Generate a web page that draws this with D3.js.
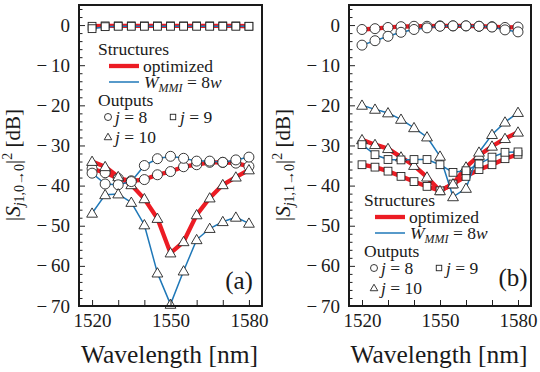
<!DOCTYPE html>
<html><head><meta charset="utf-8">
<script src="https://cdn.jsdelivr.net/npm/d3@7"></script>
<style>
body{margin:0;background:#fff}
svg{display:block}
</style>
</head><body><svg id="c" width="540" height="372"></svg>
<script>
// ---- data ----
const wavelengths = [1520,1525,1530,1535,1540,1545,1550,1555,1560,1565,1570,1575,1580];
const yMajorTicks = [0,-10,-20,-30,-40,-50,-60,-70];
const yMinorTicks = [4,2,-2,-4,-6,-8,-12,-14,-16,-18,-22,-24,-26,-28,-32,-34,-36,-38,-42,-44,-46,-48,-52,-54,-56,-58,-62,-64,-66,-68];
const xTicks = [1520,1530,1540,1550,1560,1570,1580];
const xTickLabels = [1520,1550,1580];

// panel (a): |S_{j1,0->0}|^2
const aOptJ8  = [-35.8,-36.8,-38.2,-38.8,-38.5,-37.3,-36.5,-35.3,-34.8,-34.2,-34.2,-34.4,-35.2];
const aOptJ9  = [-0.3,-0.2,-0.2,-0.2,-0.2,-0.2,-0.2,-0.2,-0.2,-0.2,-0.2,-0.2,-0.3];
const aOptJ10 = [-34.0,-35.3,-37.8,-39.8,-43.3,-48.2,-56.8,-54.0,-47.3,-43.1,-39.8,-37.9,-36.1];
const aRefJ8  = [-36.9,-39.6,-39.8,-39.0,-35.0,-33.3,-32.7,-33.2,-33.9,-33.9,-34.2,-33.6,-32.9];
const aRefJ9  = [-0.9,-0.4,-0.3,-0.3,-0.3,-0.3,-0.3,-0.3,-0.3,-0.3,-0.3,-0.3,-0.3];
const aRefJ10 = [-46.9,-42.3,-42.1,-44.2,-49.8,-61.8,-69.6,-61.3,-53.5,-50.7,-49.0,-47.9,-49.4];

// panel (b): |S_{j1,1->0}|^2
const bOptJ8  = [-1.1,-0.9,-0.6,-0.4,-0.3,-0.3,-0.2,-0.2,-0.2,-0.3,-0.4,-0.6,-0.5];
const bOptJ9  = [-34.8,-35.4,-36.4,-37.7,-39.0,-40.2,-41.3,-39.6,-37.7,-36.0,-34.8,-33.3,-32.2];
const bOptJ10 = [-28.6,-29.8,-30.8,-32.9,-35.0,-37.9,-41.3,-39.6,-35.4,-32.5,-30.2,-28.3,-26.7];
const bRefJ8  = [-5.0,-3.9,-2.8,-1.8,-1.1,-0.7,-0.3,-0.2,-0.2,-0.3,-0.5,-1.2,-1.7];
const bRefJ9  = [-29.8,-32.3,-33.5,-33.6,-33.5,-33.5,-34.8,-36.7,-36.3,-34.6,-32.9,-31.7,-31.6];
const bRefJ10 = [-20.0,-21.0,-21.9,-23.5,-25.6,-27.9,-32.7,-42.8,-40.7,-31.7,-27.3,-24.2,-21.8];

const legendStructures = ["optimized","W_MMI = 8w"];
const legendOutputs = ["j = 8","j = 9","j = 10"];

// ---- font detection (pick a Times-like serif that is installed) ----
function pickFont(cands) {
  const ctx = document.createElement("canvas").getContext("2d");
  const probe = "Wavelength [nm] 1520 Structures";
  for (const f of cands) {
    for (const base of ["monospace","sans-serif"]) {
      ctx.font = `20px ${base}`; const w0 = ctx.measureText(probe).width;
      ctx.font = `20px "${f}", ${base}`; const w1 = ctx.measureText(probe).width;
      if (Math.abs(w0 - w1) > 0.5) return f;
    }
  }
  return "serif";
}
const FONT = pickFont(["Liberation Serif","Tinos","Times New Roman","Nimbus Roman","FreeSerif","TeX Gyre Termes","Noto Serif","DejaVu Serif"]);
const FF = `"${FONT}", serif`;

// ---- style ----
const RED = "#ec1c24", BLUE = "#1f78b8", INK = "#1a1a1a";
const svg = d3.select("#c");
const fmt = v => v < 0 ? "\u2212\u2009" + Math.abs(v) : String(v);

const panels = [
  {left:79, right:262, tag:"(a)", tagX:239, tagY:289, sub:"1,0\u21920", labX:20, leg:[98,55],
   series:[
     {vals:aOptJ8,c:RED,w:4.3,m:"circle"},{vals:aOptJ9,c:RED,w:4.3,m:"square"},{vals:aOptJ10,c:RED,w:4.3,m:"tri"},
     {vals:aRefJ8,c:BLUE,w:1.5,m:"circle"},{vals:aRefJ9,c:BLUE,w:1.5,m:"square"},{vals:aRefJ10,c:BLUE,w:1.5,m:"tri"}]},
  {left:349, right:531, tag:"(b)", tagX:513, tagY:286, sub:"1,1\u21920", labX:290, leg:[364,206],
   series:[
     {vals:bOptJ8,c:RED,w:4.3,m:"circle"},{vals:bOptJ9,c:RED,w:4.3,m:"square"},{vals:bOptJ10,c:RED,w:4.3,m:"tri"},
     {vals:bRefJ8,c:BLUE,w:1.5,m:"circle"},{vals:bRefJ9,c:BLUE,w:1.5,m:"square"},{vals:bRefJ10,c:BLUE,w:1.5,m:"tri"}]}
];

const TOP = 5, BOTTOM = 306;
const y = d3.scaleLinear().domain([-70, 5]).range([BOTTOM, TOP]);

function marker(g, type, cx, cy, s) {
  if (type === "circle") {
    g.append("circle").attr("cx", cx).attr("cy", cy).attr("r", 5*s)
      .attr("fill","#fff").attr("stroke","#222").attr("stroke-width",0.9);
  } else if (type === "square") {
    const h = 3.9*s;
    g.append("rect").attr("x", cx-h).attr("y", cy-h).attr("width", 2*h).attr("height", 2*h)
      .attr("fill","#fff").attr("stroke","#222").attr("stroke-width",0.9);
  } else {
    const a = 5.4*s;
    g.append("path").attr("d", `M${cx},${cy-a*1.0}L${cx+a},${cy+a*0.72}L${cx-a},${cy+a*0.72}Z`)
      .attr("fill","#fff").attr("stroke","#222").attr("stroke-width",0.9);
  }
}

function txt(sel) { return sel.attr("font-family", FF).attr("fill", INK); }

panels.forEach(p => {
  const x = d3.scaleLinear().domain([1515, 1585]).range([p.left, p.right]);
  const g = svg.append("g");

  const line = d3.line().x((d,i) => x(wavelengths[i])).y(d => y(d));
  p.series.forEach(s => {
    g.append("path").datum(s.vals).attr("d", line).attr("fill","none")
      .attr("stroke", s.c).attr("stroke-width", s.w).attr("stroke-linejoin","round");
  });
  p.series.forEach(s => {
    s.vals.forEach((v,i) => marker(g, s.m, x(wavelengths[i]), y(v), 1));
  });

  const yAx = g.append("g").attr("transform", `translate(${p.left},0)`)
    .call(d3.axisLeft(y).tickValues(yMajorTicks).tickSize(-6).tickPadding(9).tickFormat(fmt));
  g.append("g").attr("transform", `translate(${p.left},0)`)
    .call(d3.axisLeft(y).tickValues(yMinorTicks).tickSize(-3.5).tickFormat(""));
  const xAx = g.append("g").attr("transform", `translate(0,${BOTTOM})`)
    .call(d3.axisBottom(x).tickValues(xTicks).tickSize(-6).tickPadding(8)
      .tickFormat(d => xTickLabels.includes(d) ? d : ""));
  g.selectAll(".domain").remove();
  g.selectAll(".tick line").attr("stroke","#222").attr("stroke-width",1);
  [yAx, xAx].forEach(a => a.attr("font-family", FF).attr("font-size", 19)
    .selectAll("text").attr("fill", INK));

  g.append("rect").attr("x", p.left).attr("y", TOP).attr("width", p.right-p.left).attr("height", BOTTOM-TOP)
    .attr("fill","none").attr("stroke",INK).attr("stroke-width",2);

  txt(g.append("text")).attr("x", (p.left+p.right)/2 - 1).attr("y", 363).attr("text-anchor","middle")
    .attr("font-size",25.5).text("Wavelength [nm]");

  const yl = txt(g.append("text")).attr("transform", `translate(${p.labX},165) rotate(-90)`)
    .attr("text-anchor","middle").attr("font-size",21);
  yl.append("tspan").text("|");
  yl.append("tspan").attr("font-style","italic").text("S");
  yl.append("tspan").attr("font-size",14).attr("dy",4).attr("font-style","italic").text("j");
  yl.append("tspan").attr("font-size",14).text(p.sub);
  yl.append("tspan").attr("dy",-4).text("|");
  yl.append("tspan").attr("font-size",14).attr("dy",-8).text("2");
  yl.append("tspan").attr("dy",8).text(" [dB]");

  txt(g.append("text")).attr("x", p.tagX).attr("y", p.tagY).attr("text-anchor","middle")
    .attr("font-size",25).text(p.tag);

  const [lx, ly] = p.leg;
  const L = g.append("g").attr("transform", `translate(${lx},${ly})`);
  txt(L.append("text")).attr("x",0).attr("y",0).attr("font-size",17.5).text("Structures");
  L.append("line").attr("x1",11).attr("x2",41).attr("y1",11).attr("y2",11).attr("stroke",RED).attr("stroke-width",4.3);
  txt(L.append("text")).attr("x",45).attr("y",17).attr("font-size",17.5).text(legendStructures[0]);
  L.append("line").attr("x1",11).attr("x2",41).attr("y1",27).attr("y2",27).attr("stroke",BLUE).attr("stroke-width",1.5);
  const wt = txt(L.append("text")).attr("x",46).attr("y",33).attr("font-size",17.5);
  wt.append("tspan").attr("font-style","italic").text("W");
  wt.append("tspan").attr("font-style","italic").attr("font-size",12).attr("dy",4).text("MMI");
  wt.append("tspan").attr("dy",-4).text(" = 8");
  wt.append("tspan").attr("font-style","italic").text("w");
  txt(L.append("text")).attr("x",0).attr("y",51).attr("font-size",17.5).text("Outputs");
  const outs = [["circle",10,62],["square",75,62],["tri",10,82]];
  outs.forEach((o,k) => {
    marker(L, o[0], o[1], o[2], 0.7);
    const t = txt(L.append("text")).attr("x", o[1]+7).attr("y", o[2]+6).attr("font-size",17.5);
    const parts = legendOutputs[k].split(" = ");
    t.append("tspan").attr("font-style","italic").text(parts[0]);
    t.append("tspan").text(" = " + parts[1]);
  });
});
</script>
</body></html>
